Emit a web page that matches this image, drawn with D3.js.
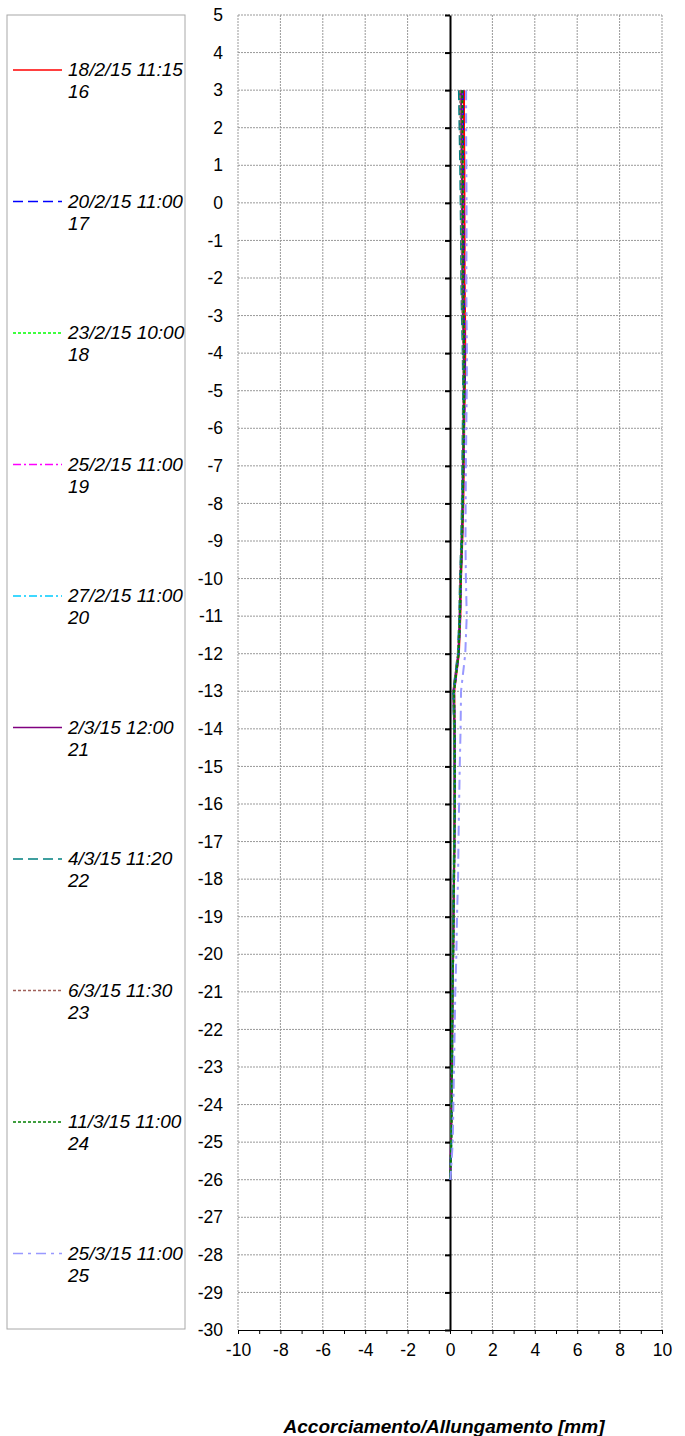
<!DOCTYPE html>
<html>
<head>
<meta charset="utf-8">
<script src="https://cdn.jsdelivr.net/npm/d3@7"></script>
<style>
    body { margin: 0; background: #fff; }
    svg { display: block; font-family: "Liberation Sans", Arial, sans-serif; }
</style>
</head>
<body>
<div id="chart"></div>
<script>

//Depth of each reading (m)
var depths = [3, 2, 1, 0, -1, -2, -3, -4, -5, -6, -7, -8, -9, -10, -11, -12, -13,
    -14, -15, -16, -17, -18, -19, -20, -21, -22, -23, -24, -25, -26];

//Legend labels
var labels = ["18/2/15 11:15", "20/2/15 11:00", "23/2/15 10:00", "25/2/15 11:00", "27/2/15 11:00",
    "2/3/15 12:00", "4/3/15 11:20", "6/3/15 11:30", "11/3/15 11:00", "25/3/15 11:00"];
var readingNo = ["16", "17", "18", "19", "20", "21", "22", "23", "24", "25"];

//Displacement values (mm) for each reading, top to bottom
var s16 = [0.66, 0.66, 0.68, 0.68, 0.69, 0.69, 0.71, 0.72, 0.70, 0.67, 0.65, 0.63, 0.58, 0.52, 0.49, 0.42, 0.20,
    0.22, 0.23, 0.22, 0.21, 0.19, 0.17, 0.15, 0.12, 0.11, 0.09, 0.07, 0.05, 0.01];
var s17 = [0.60, 0.61, 0.62, 0.63, 0.64, 0.64, 0.66, 0.69, 0.69, 0.66, 0.64, 0.61, 0.57, 0.51, 0.48, 0.41, 0.19,
    0.22, 0.23, 0.23, 0.21, 0.19, 0.17, 0.15, 0.12, 0.11, 0.10, 0.08, 0.06, 0.01];
var s18 = [0.56, 0.57, 0.59, 0.60, 0.60, 0.61, 0.63, 0.66, 0.67, 0.65, 0.62, 0.60, 0.56, 0.50, 0.47, 0.40, 0.18,
    0.21, 0.22, 0.22, 0.21, 0.19, 0.17, 0.15, 0.12, 0.11, 0.10, 0.08, 0.06, 0.01];
var s19 = [0.54, 0.56, 0.57, 0.59, 0.60, 0.60, 0.62, 0.65, 0.66, 0.64, 0.62, 0.60, 0.56, 0.50, 0.46, 0.39, 0.17,
    0.21, 0.22, 0.22, 0.20, 0.18, 0.16, 0.14, 0.12, 0.10, 0.09, 0.08, 0.05, 0.01];
var s20 = [0.50, 0.52, 0.54, 0.56, 0.57, 0.58, 0.60, 0.64, 0.65, 0.63, 0.61, 0.58, 0.55, 0.49, 0.46, 0.39, 0.17,
    0.20, 0.21, 0.22, 0.20, 0.18, 0.16, 0.14, 0.11, 0.10, 0.09, 0.07, 0.05, 0.01];
var s21 = [0.52, 0.54, 0.56, 0.57, 0.58, 0.59, 0.61, 0.65, 0.65, 0.63, 0.61, 0.59, 0.55, 0.49, 0.46, 0.39, 0.16,
    0.20, 0.21, 0.21, 0.20, 0.18, 0.16, 0.14, 0.11, 0.10, 0.09, 0.07, 0.05, 0.01];
var s22 = [0.42, 0.45, 0.48, 0.50, 0.52, 0.53, 0.56, 0.60, 0.62, 0.60, 0.58, 0.56, 0.53, 0.47, 0.44, 0.37, 0.15,
    0.19, 0.20, 0.21, 0.19, 0.17, 0.15, 0.13, 0.11, 0.09, 0.08, 0.07, 0.05, 0.01];
var s23 = [0.48, 0.50, 0.52, 0.54, 0.55, 0.56, 0.59, 0.63, 0.64, 0.62, 0.60, 0.58, 0.54, 0.48, 0.45, 0.38, 0.16,
    0.20, 0.21, 0.21, 0.20, 0.18, 0.16, 0.14, 0.11, 0.10, 0.09, 0.07, 0.05, 0.01];
var s24 = [0.58, 0.59, 0.60, 0.61, 0.62, 0.62, 0.64, 0.67, 0.67, 0.65, 0.63, 0.61, 0.57, 0.51, 0.47, 0.41, 0.19,
    0.22, 0.23, 0.23, 0.21, 0.19, 0.17, 0.15, 0.12, 0.11, 0.10, 0.08, 0.06, 0.01];
var s25 = [0.76, 0.76, 0.77, 0.78, 0.78, 0.77, 0.78, 0.80, 0.79, 0.77, 0.75, 0.74, 0.73, 0.75, 0.79, 0.72, 0.52,
    0.50, 0.46, 0.43, 0.40, 0.38, 0.33, 0.30, 0.25, 0.22, 0.19, 0.16, 0.13, 0.02];

var seriesValues = [s16, s17, s18, s19, s20, s21, s22, s23, s24, s25];

//Axis tick labels
var xTickLabels = [-10, -8, -6, -4, -2, 0, 2, 4, 6, 8, 10];
var yTickLabels = [5, 4, 3, 2, 1, 0, -1, -2, -3, -4, -5, -6, -7, -8, -9, -10, -11, -12, -13, -14, -15,
    -16, -17, -18, -19, -20, -21, -22, -23, -24, -25, -26, -27, -28, -29, -30];

//Line styles per reading
var colors = ["#ff0000", "#0000ff", "#00ff00", "#ff00ff", "#00ccff",
    "#800080", "#008080", "#a0605a", "#008000", "#9999ff"];
var dashes = ["none", "10,5", "3,2", "8,3,2,3", "8,3,2,3",
    "none", "10,5", "3,2", "3,2", "10,5,3,5"];

var svg = d3.select("#chart").append("svg")
    .attr("width", 685)
    .attr("height", 1436);

//Scales
var x = d3.scaleLinear()
    .domain([-10, 10])
    .range([238, 662]);

var y = d3.scaleLinear()
    .domain([5, -30])
    .range([15, 1330]);

//Plain hyphen for negative numbers, like the original
var plain = function (d) { return String(d); };

//Gridlines
svg.append("g")
    .selectAll("line")
    .data(yTickLabels.filter(function (d) { return d > -30; }))
    .enter().append("line")
    .attr("x1", x(-10))
    .attr("x2", x(10))
    .attr("y1", function (d) { return y(d); })
    .attr("y2", function (d) { return y(d); })
    .attr("stroke", "#999")
    .attr("stroke-dasharray", "2,1")
    .attr("stroke-width", 1);

svg.append("g")
    .selectAll("line")
    .data(xTickLabels.filter(function (d) { return d !== 0; }))
    .enter().append("line")
    .attr("x1", function (d) { return x(d); })
    .attr("x2", function (d) { return x(d); })
    .attr("y1", y(5))
    .attr("y2", y(-30))
    .attr("stroke", "#999")
    .attr("stroke-dasharray", "2,1")
    .attr("stroke-width", 1);

//Y tick labels, at the left edge of the plot
var yLab = svg.append("g")
    .attr("transform", "translate(" + x(-10) + ",0)")
    .call(d3.axisLeft(y).tickValues(yTickLabels).tickSize(0).tickPadding(15).tickFormat(plain));
yLab.select(".domain").remove();
yLab.selectAll("text")
    .attr("font-size", "17.5px")
    .attr("font-family", "Liberation Sans, Arial, sans-serif")
    .attr("fill", "#000");

//Y axis at x = 0
var yAxis = svg.append("g")
    .attr("transform", "translate(" + x(0) + ",0)")
    .call(d3.axisLeft(y).tickValues(yTickLabels).tickSize(5).tickSizeOuter(0).tickFormat(""));
yAxis.select(".domain").attr("stroke", "#000").attr("stroke-width", 2);
yAxis.selectAll(".tick line").attr("stroke", "#000").attr("stroke-width", 2);

//X axis at the bottom
var xAxis = svg.append("g")
    .attr("transform", "translate(0," + y(-30) + ")")
    .call(d3.axisBottom(x).ticks(20).tickSize(4).tickSizeOuter(0).tickFormat(""));
xAxis.select(".domain").attr("stroke", "#000");

var xLab = svg.append("g")
    .attr("transform", "translate(0," + y(-30) + ")")
    .call(d3.axisBottom(x).tickValues(xTickLabels).tickSize(0).tickPadding(14).tickFormat(plain));
xLab.select(".domain").remove();
xLab.selectAll("text")
    .attr("font-size", "17.5px")
    .attr("font-family", "Liberation Sans, Arial, sans-serif")
    .attr("fill", "#000");

//Profile lines
var line = d3.line()
    .x(function (d) { return x(d); })
    .y(function (d, i) { return y(depths[i]); });

svg.append("g")
    .selectAll("path")
    .data(seriesValues)
    .enter().append("path")
    .attr("d", line)
    .attr("fill", "none")
    .attr("stroke", function (d, i) { return colors[i]; })
    .attr("stroke-dasharray", function (d, i) { return dashes[i]; })
    .attr("stroke-width", 2);

//Axis title
svg.append("text")
    .text("Accorciamento/Allungamento [mm]")
    .attr("x", 444)
    .attr("y", 1433)
    .attr("text-anchor", "middle")
    .attr("font-size", "19px")
    .attr("font-weight", "bold")
    .attr("font-style", "italic")
    .attr("fill", "#000");

//Legend
svg.append("rect")
    .attr("x", 7)
    .attr("y", 15)
    .attr("width", 178)
    .attr("height", 1314)
    .attr("fill", "none")
    .attr("stroke", "#a8a8a8");

var legendItem = svg.append("g")
    .selectAll("g")
    .data(labels)
    .enter().append("g")
    .attr("transform", function (d, i) { return "translate(0," + (70 + i * 131.5) + ")"; });

legendItem.append("line")
    .attr("x1", 13)
    .attr("x2", 62)
    .attr("stroke", function (d, i) { return colors[i]; })
    .attr("stroke-dasharray", function (d, i) { return dashes[i]; })
    .attr("stroke-width", 1.5);

legendItem.append("text")
    .text(function (d) { return d; })
    .attr("x", 68)
    .attr("y", 6)
    .attr("font-size", "19px")
    .attr("font-style", "italic");

legendItem.append("text")
    .text(function (d, i) { return readingNo[i]; })
    .attr("x", 68)
    .attr("y", 28)
    .attr("font-size", "19px")
    .attr("font-style", "italic");

</script>
</body>
</html>
